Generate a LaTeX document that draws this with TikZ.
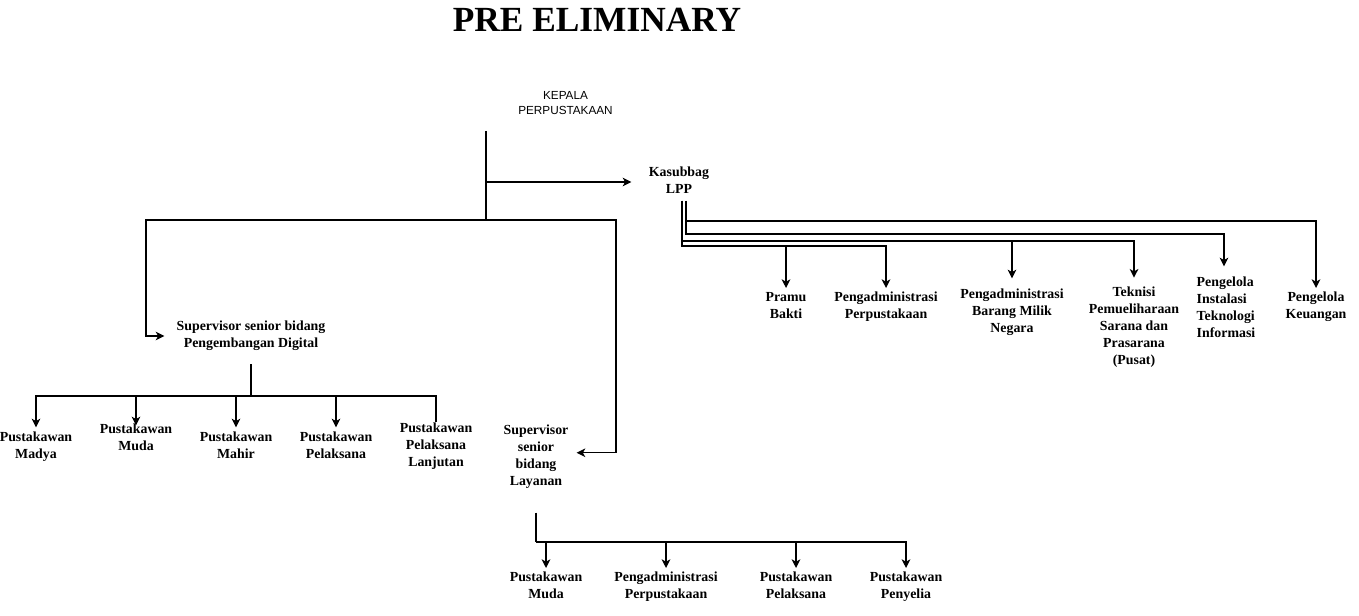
\documentclass[tikz,border=0pt]{standalone}
\usepackage{fontspec}
\setmainfont{Liberation Serif}
\newfontfamily\kepalafont{Liberation Sans}
\usetikzlibrary{arrows.meta}
\tikzset{
  lbl/.style={font=\fontsize{10.4}{12.6}\selectfont\bfseries, align=center, inner sep=0pt, anchor=north},
  conn/.style={line width=1pt, black},
  arr/.style={conn, -{Stealth[length=6.5pt,width=6.5pt,inset=1.8pt]}, shorten >=3pt},
}
\begin{document}
\begin{tikzpicture}[x=0.75pt,y=-0.75pt]
\useasboundingbox (0,0) rectangle (1359,616);
% title
\node[font=\fontsize{26.5}{30}\selectfont\bfseries, anchor=base, inner sep=0pt] (title) at (597,32) {PRE ELIMINARY};
% head
\node[font=\kepalafont\fontsize{8.8}{11.25}\selectfont, align=center, inner sep=0pt, anchor=north] (kepala) at (565.5,91.5) {KEPALA\\PERPUSTAKAAN};
% nodes
\node[lbl] (kasub) at (679,167) {Kasubbag\\LPP};
\node[lbl] (supdig) at (251,321) {Supervisor senior bidang\\Pengembangan Digital};
\node[lbl] (layan) at (536,425) {Supervisor\\senior\\bidang\\Layanan};
\node[lbl] (madya) at (36,432) {Pustakawan\\Madya};
\node[lbl] (muda1) at (136,424) {Pustakawan\\Muda};
\node[lbl] (mahir) at (236,432) {Pustakawan\\Mahir};
\node[lbl] (pelak1) at (336,432) {Pustakawan\\Pelaksana};
\node[lbl] (lanjut) at (436,423) {Pustakawan\\Pelaksana\\Lanjutan};
\node[lbl] (muda2) at (546,572) {Pustakawan\\Muda};
\node[lbl] (padm2) at (666,572) {Pengadministrasi\\Perpustakaan};
\node[lbl] (pelak2) at (796,572) {Pustakawan\\Pelaksana};
\node[lbl] (penyelia) at (906,572) {Pustakawan\\Penyelia};
\node[lbl] (pramu) at (786,292) {Pramu\\Bakti};
\node[lbl] (padm1) at (886,292) {Pengadministrasi\\Perpustakaan};
\node[lbl] (bmn) at (1012,289) {Pengadministrasi\\Barang Milik\\Negara};
\node[lbl] (tek) at (1134,287) {Teknisi\\Pemueliharaan\\Sarana dan\\Prasarana\\(Pusat)};
\node[lbl, align=left] (inst) at (1226,277) {Pengelola\\Instalasi\\Teknologi\\Informasi};
\node[lbl] (keu) at (1316,292) {Pengelola\\Keuangan};
% junctions
\coordinate (c0) at (486,131);
\coordinate (c1) at (486,182);
\coordinate (c2) at (486,220);
\coordinate (jd) at (251,396);
\coordinate (jl) at (536,542);
\coordinate (k1) at (682,201);
\coordinate (k2) at (686,201);
% connectors from head
\draw[conn] (c0) -- (c2);
\draw[arr, shorten >=13pt] (c1) -- (c1 -| kasub.west);
\draw[arr, shorten >=9pt] (c2) -- ++(-340,0) |- (supdig.west);
\draw[arr, shorten >=6pt] (c2) -- ++(130,0) |- ([yshift=3pt]layan.east);
% digital branch
\draw[conn, shorten <=10pt] (supdig.south) -- (jd);
\draw[arr, shorten >=3.5pt] (jd) -| (madya.north);
\draw[arr, shorten >=-1pt] (jd) -| (muda1.north);
\draw[arr, shorten >=3.5pt] (jd) -| (mahir.north);
\draw[arr, shorten >=3.5pt] (jd) -| (pelak1.north);
\draw[conn, shorten >=1pt] (jd) -| (lanjut.north);
% layanan branch
\draw[conn, shorten <=18pt] (layan.south) -- (jl);
\draw[arr] (jl) -| (muda2.north);
\draw[arr] (jl) -| (padm2.north);
\draw[arr] (jl) -| (pelak2.north);
\draw[arr] (jl) -| (penyelia.north);
% kasubbag branch
\draw[arr] (k1) -- ++(0,45) -| (pramu.north);
\draw[arr] (k1) -- ++(0,45) -| (padm1.north);
\draw[arr, shorten >=8pt] (k1) -- ++(0,40) -| (bmn.north);
\draw[arr, shorten >=7pt] (k1) -- ++(0,40) -| (tek.north);
\draw[arr, shorten >=8pt] (k2) -- ++(0,33) -| ([xshift=-1.5pt]inst.north);
\draw[arr] (k2) -- ++(0,20) -| (keu.north);
\end{tikzpicture}
\end{document}
